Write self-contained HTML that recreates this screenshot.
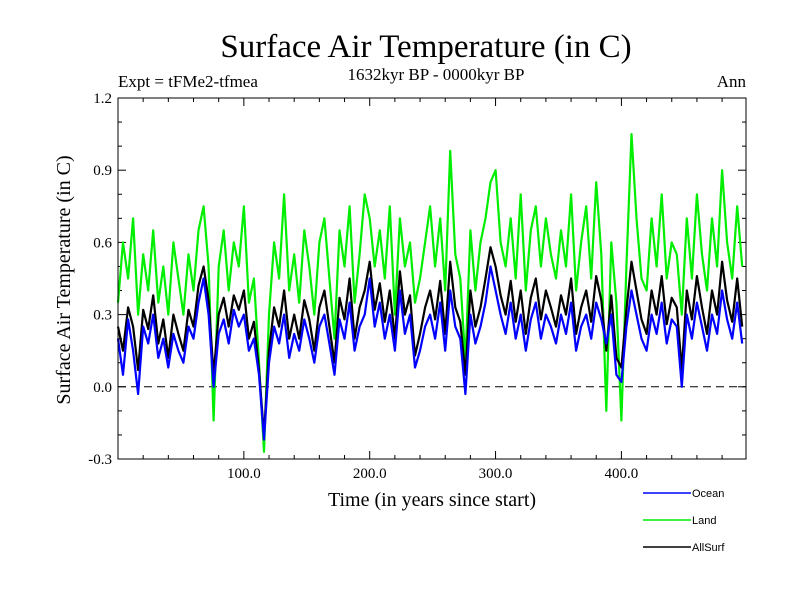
<!DOCTYPE html>
<html><head><meta charset="utf-8"><style>body{margin:0;background:#fff}svg{display:block}</style></head>
<body>
<svg id="chart" width="800" height="600" xmlns="http://www.w3.org/2000/svg" font-family="'Liberation Serif', serif">
<text x="426" y="57" font-size="33" text-anchor="middle">Surface Air Temperature (in C)</text>
<text x="118" y="87" font-size="17">Expt = tFMe2-tfmea</text>
<text x="436" y="80" font-size="17" text-anchor="middle">1632kyr BP - 0000kyr BP</text>
<text x="746" y="87" font-size="17" text-anchor="end">Ann</text>
<text transform="translate(70,280) rotate(-90)" font-size="20" text-anchor="middle">Surface Air Temperature (in C)</text>
<text x="432" y="506" font-size="20" text-anchor="middle">Time (in years since start)</text>
<g id="ticks"></g>
<g id="series"></g>
<rect x="118" y="98" width="628" height="361" fill="none" stroke="#000" stroke-width="1"/>
<g font-family="'Liberation Sans', sans-serif" font-size="11">
<g><line x1="643" y1="493" x2="691" y2="493" stroke="#0000ff" stroke-width="1.5"/><text x="692" y="497">Ocean</text></g>
<g><line x1="643" y1="520" x2="691" y2="520" stroke="#00ee00" stroke-width="1.5"/><text x="692" y="524">Land</text></g>
<g><line x1="643" y1="547" x2="691" y2="547" stroke="#000" stroke-width="1.5"/><text x="692" y="551">AllSurf</text></g>
</g>
</svg>
<script>
const years = [];
for (let i = 0; i < 125; i++) years.push(i * 4);
const ocean = [0.2,0.05,0.28,0.15,-0.03,0.25,0.18,0.3,0.12,0.2,0.08,0.22,0.15,
0.1,0.25,0.2,0.35,0.45,0.3,0.0,0.22,0.28,0.18,0.32,0.25,
0.3,0.15,0.2,0.05,-0.22,0.1,0.25,0.18,0.3,0.12,0.22,0.15,0.28,
0.2,0.1,0.25,0.3,0.18,0.05,0.28,0.2,0.35,0.15,0.25,0.3,
0.45,0.25,0.35,0.2,0.3,0.15,0.4,0.22,0.3,0.08,0.15,0.25,0.3,
0.2,0.35,0.15,0.4,0.25,0.2,-0.03,0.3,0.18,0.25,0.35,0.5,
0.4,0.3,0.22,0.35,0.2,0.3,0.15,0.28,0.35,0.2,0.3,0.25,0.18,
0.3,0.22,0.35,0.15,0.25,0.3,0.2,0.35,0.28,0.18,0.3,0.05,
0.02,0.25,0.4,0.3,0.2,0.15,0.3,0.22,0.35,0.18,0.28,0.25,0.0,
0.3,0.2,0.35,0.25,0.15,0.3,0.22,0.4,0.28,0.2,0.35,0.18];
const land = [0.35,0.6,0.45,0.7,0.3,0.55,0.4,0.65,0.35,0.5,0.3,0.6,0.45,
0.3,0.55,0.4,0.65,0.75,0.5,-0.14,0.5,0.65,0.4,0.6,0.5,
0.75,0.35,0.45,0.1,-0.27,0.3,0.6,0.45,0.8,0.4,0.55,0.35,0.65,
0.5,0.3,0.6,0.7,0.45,0.2,0.65,0.5,0.75,0.35,0.55,0.8,
0.7,0.5,0.65,0.45,0.75,0.3,0.7,0.5,0.6,0.35,0.45,0.6,0.75,
0.5,0.7,0.4,0.98,0.55,0.45,0.1,0.65,0.4,0.6,0.7,0.85,
0.9,0.6,0.5,0.7,0.45,0.8,0.4,0.65,0.75,0.5,0.7,0.55,0.45,
0.65,0.5,0.8,0.4,0.6,0.75,0.45,0.85,0.55,-0.1,0.6,0.35,
-0.14,0.5,1.05,0.7,0.45,0.4,0.7,0.5,0.8,0.45,0.6,0.55,0.3,
0.7,0.45,0.8,0.55,0.4,0.7,0.5,0.9,0.6,0.45,0.75,0.5];
const allsurf = [0.25,0.15,0.33,0.25,0.07,0.32,0.24,0.38,0.18,0.28,0.12,0.3,0.22,
0.15,0.32,0.25,0.42,0.5,0.36,0.05,0.3,0.37,0.25,0.38,0.32,
0.4,0.2,0.27,0.07,-0.2,0.15,0.33,0.25,0.4,0.2,0.3,0.2,0.36,
0.28,0.15,0.33,0.4,0.25,0.1,0.37,0.28,0.45,0.2,0.33,0.4,
0.52,0.32,0.43,0.27,0.4,0.2,0.48,0.3,0.38,0.13,0.22,0.33,0.4,
0.28,0.44,0.22,0.52,0.33,0.27,0.05,0.4,0.25,0.33,0.45,0.58,
0.5,0.38,0.3,0.44,0.27,0.4,0.22,0.37,0.45,0.28,0.4,0.33,0.25,
0.38,0.3,0.45,0.22,0.33,0.4,0.27,0.46,0.36,0.15,0.38,0.12,
0.08,0.32,0.52,0.4,0.28,0.22,0.4,0.3,0.46,0.26,0.37,0.33,0.07,
0.4,0.28,0.46,0.33,0.22,0.4,0.3,0.52,0.36,0.27,0.45,0.25];
const xTicks = [100, 200, 300, 400];
const xTickLabels = ["100.0", "200.0", "300.0", "400.0"];
const yTicks = [-0.3, 0, 0.3, 0.6, 0.9, 1.2];
const yTickLabels = ["-0.3", "0.0", "0.3", "0.6", "0.9", "1.2"];

const NS = "http://www.w3.org/2000/svg";
const X0 = 118, X1 = 746, Y0 = 459, Y1 = 98;
const xS = v => X0 + (v - 0) / 499 * (X1 - X0);
const yS = v => Y0 - (v + 0.3) / 1.5 * (Y0 - Y1);
function mk(tag, attrs, parent) { const e = document.createElementNS(NS, tag); for (const k in attrs) e.setAttribute(k, attrs[k]); parent.appendChild(e); return e; }
const tg = document.getElementById('ticks');
for (let v = 20; v < 499; v += 20) {
  const big = v % 100 === 0, L = big ? 8 : 4;
  mk('line', {x1: xS(v), x2: xS(v), y1: Y0, y2: Y0 - L, stroke: '#000'}, tg);
  mk('line', {x1: xS(v), x2: xS(v), y1: Y1, y2: Y1 + L, stroke: '#000'}, tg);
}
for (let v = -0.2; v < 1.2; v += 0.1) {
  const big = Math.abs(Math.round(v * 10) % 3) === 0, L = big ? 8 : 4;
  mk('line', {x1: X0, x2: X0 + L, y1: yS(v), y2: yS(v), stroke: '#000'}, tg);
  mk('line', {x1: X1, x2: X1 - L, y1: yS(v), y2: yS(v), stroke: '#000'}, tg);
}
xTicks.forEach((v, i) => {
  const t = mk('text', {x: xS(v), y: Y0 + 19, 'font-size': 15, 'text-anchor': 'middle'}, tg);
  t.textContent = xTickLabels[i];
  
  
});
yTicks.forEach((v, i) => {
  const t = mk('text', {x: X0 - 6, y: yS(v) + 5, 'font-size': 15, 'text-anchor': 'end'}, tg);
  t.textContent = yTickLabels[i];
  
  
});
const sg = document.getElementById('series');
const zl = mk('line', {x1: X0, x2: X1, y1: yS(0), y2: yS(0), stroke: '#000', 'stroke-dasharray': '8,5'}, sg);


function series(vals, color, name) {
  const d = vals.map((v, i) => (i ? 'L' : 'M') + xS(years[i]).toFixed(1) + ',' + yS(v).toFixed(1)).join('');
  const p = mk('path', {d: d, fill: 'none', stroke: color, 'stroke-width': 2.2, 'stroke-linejoin': 'round'}, sg);
  
  
}
series(land, '#00ee00', 'land-line');
series(allsurf, '#000000', 'allsurf-line');
series(ocean, '#0000ff', 'ocean-line');
</script>
</body></html>
